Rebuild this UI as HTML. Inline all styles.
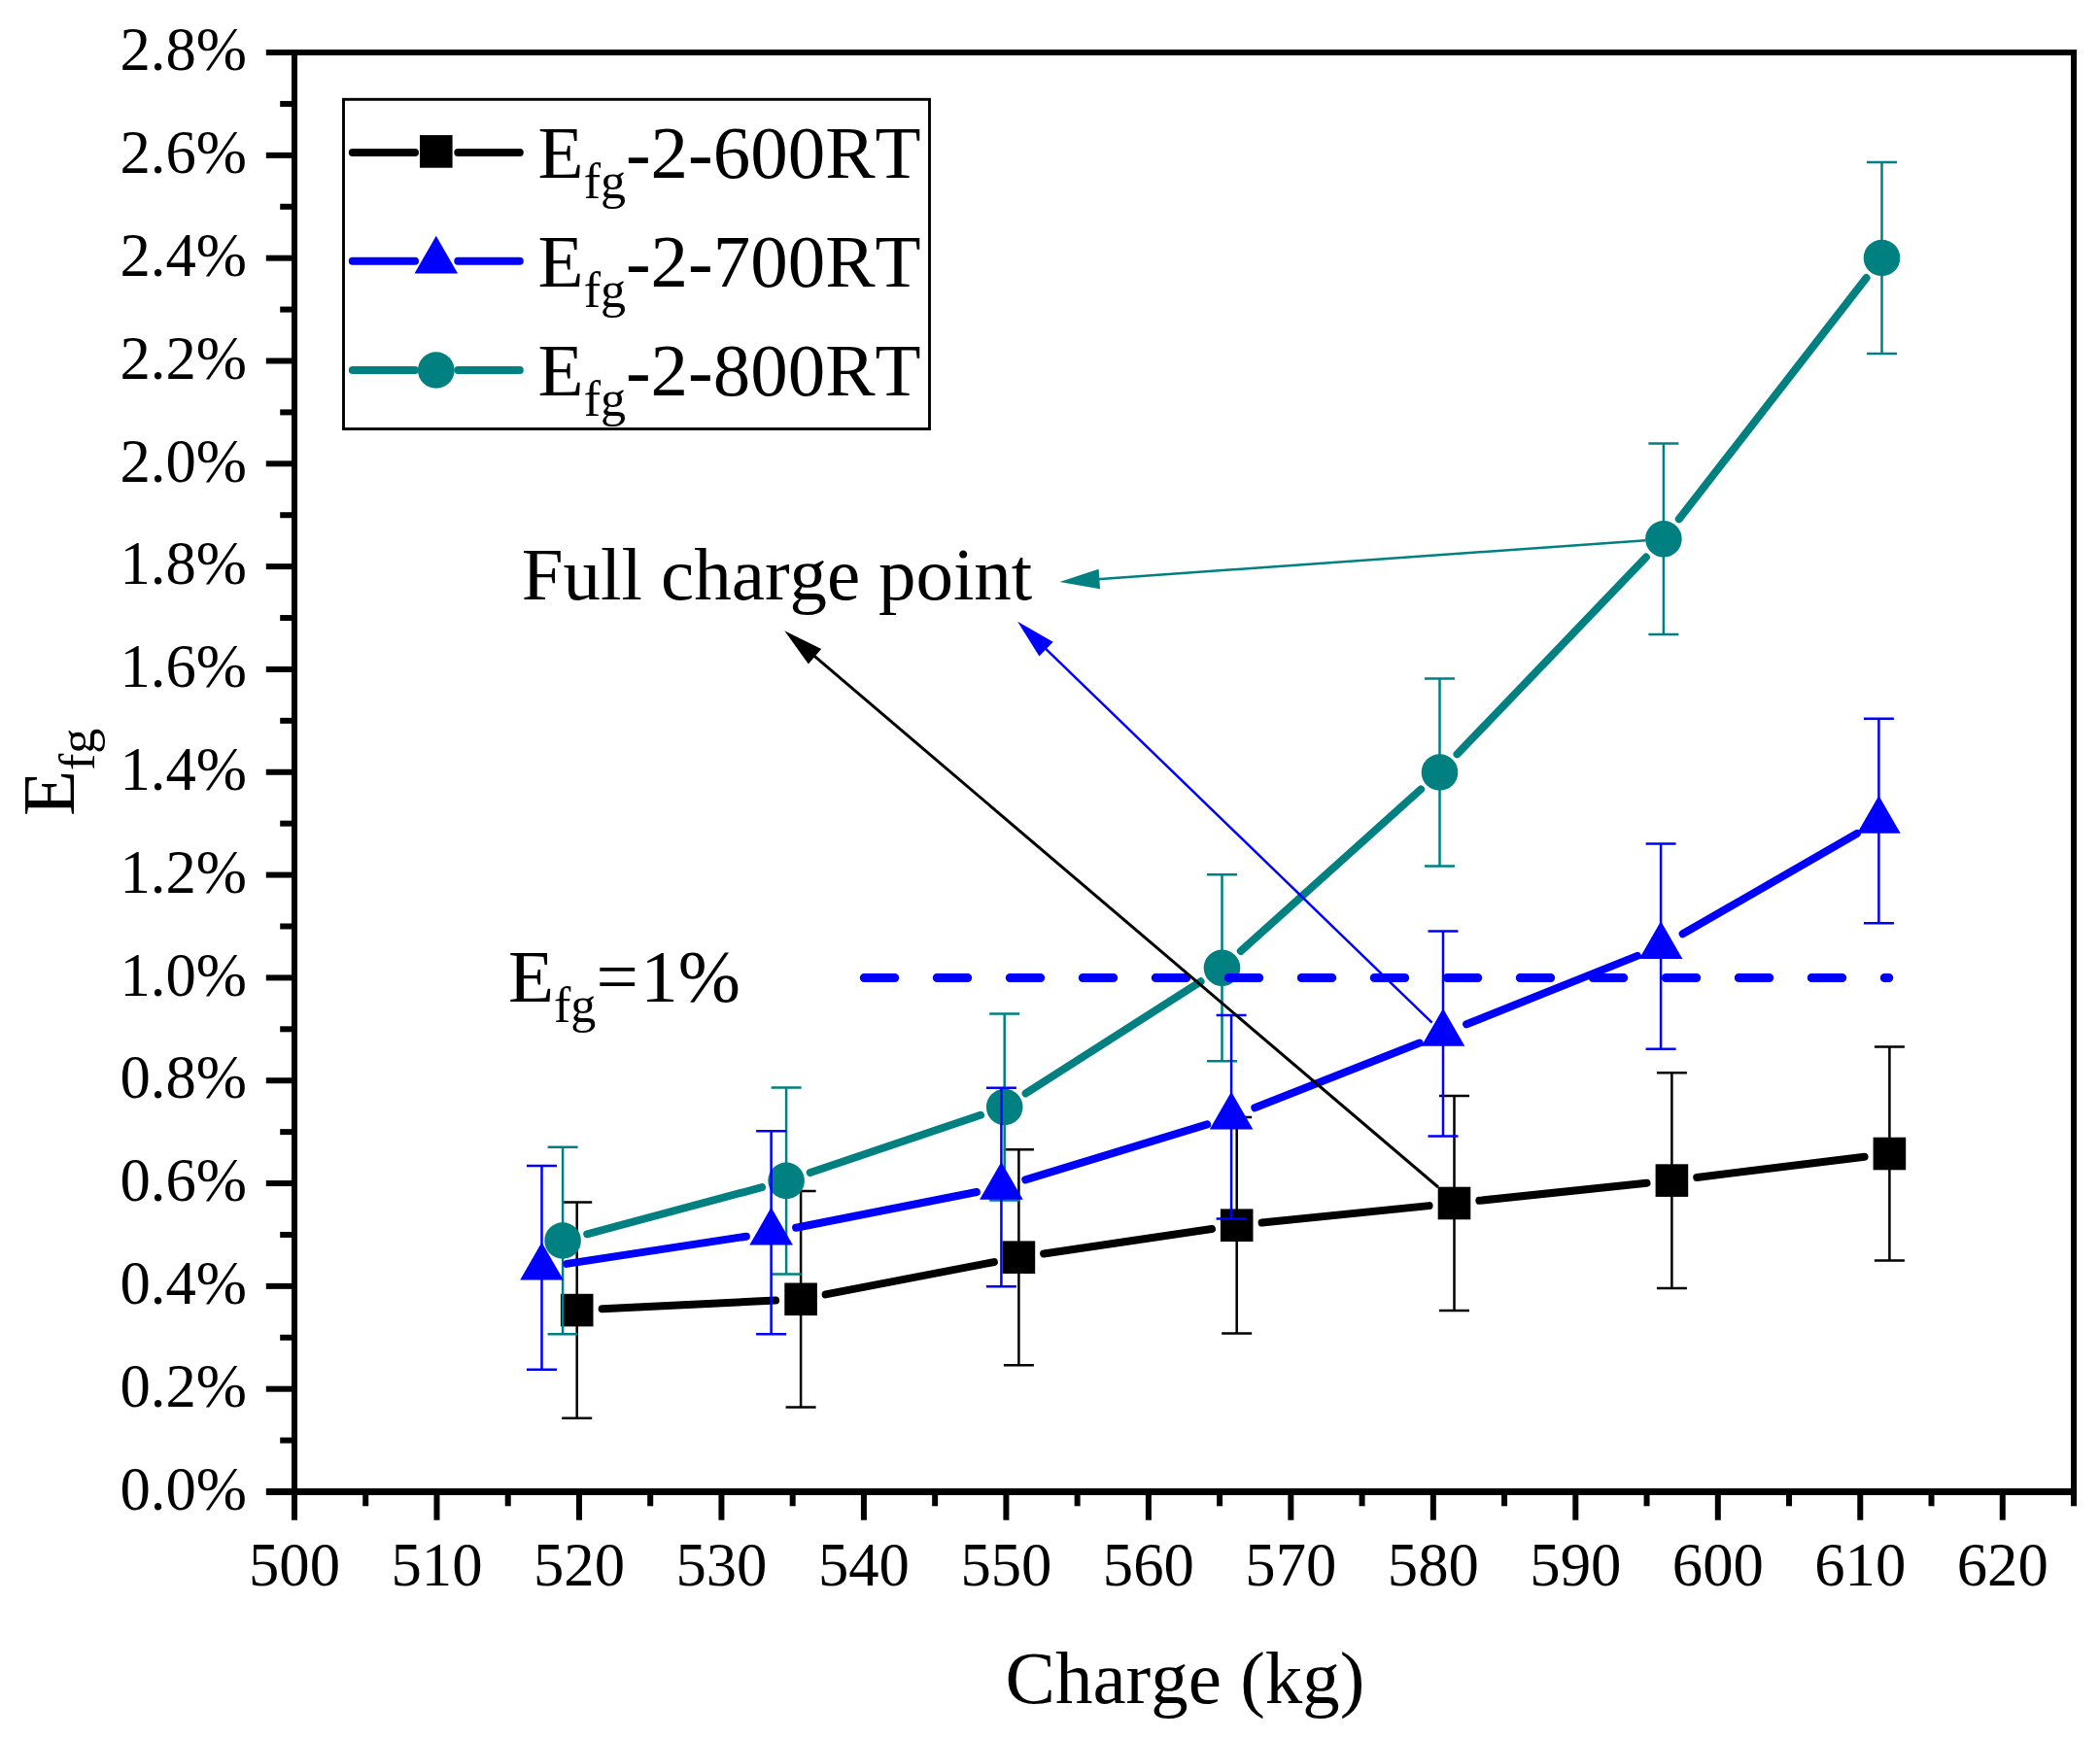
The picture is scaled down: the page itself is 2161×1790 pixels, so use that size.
<!DOCTYPE html>
<html lang="en"><head><meta charset="utf-8"><title>Efg vs Charge</title>
<style>text{font-kerning:none}html,body{margin:0;padding:0;background:#fff}svg{display:block}</style></head>
<body>
<svg width="2161" height="1790" viewBox="0 0 2161 1790" font-family="'Liberation Serif', 'Times New Roman', serif">
<rect width="2161" height="1790" fill="#fff"/>
<g stroke="#000" stroke-width="6" fill="none" stroke-linecap="butt">
<path d="M303.00,1539.00V54.02H2134.00V1539.00" stroke-linejoin="miter"/>
<line x1="274.00" y1="1535.50" x2="2137.00" y2="1535.50" stroke-width="7"/>
<line x1="273.80" y1="1535.50" x2="303.00" y2="1535.50"/>
<line x1="288.20" y1="1482.59" x2="303.00" y2="1482.59"/>
<line x1="273.80" y1="1429.68" x2="303.00" y2="1429.68"/>
<line x1="288.20" y1="1376.77" x2="303.00" y2="1376.77"/>
<line x1="273.80" y1="1323.86" x2="303.00" y2="1323.86"/>
<line x1="288.20" y1="1270.95" x2="303.00" y2="1270.95"/>
<line x1="273.80" y1="1218.04" x2="303.00" y2="1218.04"/>
<line x1="288.20" y1="1165.13" x2="303.00" y2="1165.13"/>
<line x1="273.80" y1="1112.22" x2="303.00" y2="1112.22"/>
<line x1="288.20" y1="1059.31" x2="303.00" y2="1059.31"/>
<line x1="273.80" y1="1006.40" x2="303.00" y2="1006.40"/>
<line x1="288.20" y1="953.49" x2="303.00" y2="953.49"/>
<line x1="273.80" y1="900.58" x2="303.00" y2="900.58"/>
<line x1="288.20" y1="847.67" x2="303.00" y2="847.67"/>
<line x1="273.80" y1="794.76" x2="303.00" y2="794.76"/>
<line x1="288.20" y1="741.85" x2="303.00" y2="741.85"/>
<line x1="273.80" y1="688.94" x2="303.00" y2="688.94"/>
<line x1="288.20" y1="636.03" x2="303.00" y2="636.03"/>
<line x1="273.80" y1="583.12" x2="303.00" y2="583.12"/>
<line x1="288.20" y1="530.21" x2="303.00" y2="530.21"/>
<line x1="273.80" y1="477.30" x2="303.00" y2="477.30"/>
<line x1="288.20" y1="424.39" x2="303.00" y2="424.39"/>
<line x1="273.80" y1="371.48" x2="303.00" y2="371.48"/>
<line x1="288.20" y1="318.57" x2="303.00" y2="318.57"/>
<line x1="273.80" y1="265.66" x2="303.00" y2="265.66"/>
<line x1="288.20" y1="212.75" x2="303.00" y2="212.75"/>
<line x1="273.80" y1="159.84" x2="303.00" y2="159.84"/>
<line x1="288.20" y1="106.93" x2="303.00" y2="106.93"/>
<line x1="273.80" y1="54.02" x2="303.00" y2="54.02"/>
<line x1="303.00" y1="1535.50" x2="303.00" y2="1564.70"/>
<line x1="376.24" y1="1535.50" x2="376.24" y2="1550.30"/>
<line x1="449.48" y1="1535.50" x2="449.48" y2="1564.70"/>
<line x1="522.72" y1="1535.50" x2="522.72" y2="1550.30"/>
<line x1="595.96" y1="1535.50" x2="595.96" y2="1564.70"/>
<line x1="669.20" y1="1535.50" x2="669.20" y2="1550.30"/>
<line x1="742.44" y1="1535.50" x2="742.44" y2="1564.70"/>
<line x1="815.68" y1="1535.50" x2="815.68" y2="1550.30"/>
<line x1="888.92" y1="1535.50" x2="888.92" y2="1564.70"/>
<line x1="962.16" y1="1535.50" x2="962.16" y2="1550.30"/>
<line x1="1035.40" y1="1535.50" x2="1035.40" y2="1564.70"/>
<line x1="1108.64" y1="1535.50" x2="1108.64" y2="1550.30"/>
<line x1="1181.88" y1="1535.50" x2="1181.88" y2="1564.70"/>
<line x1="1255.12" y1="1535.50" x2="1255.12" y2="1550.30"/>
<line x1="1328.36" y1="1535.50" x2="1328.36" y2="1564.70"/>
<line x1="1401.60" y1="1535.50" x2="1401.60" y2="1550.30"/>
<line x1="1474.84" y1="1535.50" x2="1474.84" y2="1564.70"/>
<line x1="1548.08" y1="1535.50" x2="1548.08" y2="1550.30"/>
<line x1="1621.32" y1="1535.50" x2="1621.32" y2="1564.70"/>
<line x1="1694.56" y1="1535.50" x2="1694.56" y2="1550.30"/>
<line x1="1767.80" y1="1535.50" x2="1767.80" y2="1564.70"/>
<line x1="1841.04" y1="1535.50" x2="1841.04" y2="1550.30"/>
<line x1="1914.28" y1="1535.50" x2="1914.28" y2="1564.70"/>
<line x1="1987.52" y1="1535.50" x2="1987.52" y2="1550.30"/>
<line x1="2060.76" y1="1535.50" x2="2060.76" y2="1564.70"/>
<line x1="2134.00" y1="1535.50" x2="2134.00" y2="1550.30"/>
</g>
<g font-size="62.7" fill="#000">
<text x="254" y="1553.70" text-anchor="end">0.0%</text>
<text x="254" y="1447.88" text-anchor="end">0.2%</text>
<text x="254" y="1342.06" text-anchor="end">0.4%</text>
<text x="254" y="1236.24" text-anchor="end">0.6%</text>
<text x="254" y="1130.42" text-anchor="end">0.8%</text>
<text x="254" y="1024.60" text-anchor="end">1.0%</text>
<text x="254" y="918.78" text-anchor="end">1.2%</text>
<text x="254" y="812.96" text-anchor="end">1.4%</text>
<text x="254" y="707.14" text-anchor="end">1.6%</text>
<text x="254" y="601.32" text-anchor="end">1.8%</text>
<text x="254" y="495.50" text-anchor="end">2.0%</text>
<text x="254" y="389.68" text-anchor="end">2.2%</text>
<text x="254" y="283.86" text-anchor="end">2.4%</text>
<text x="254" y="178.04" text-anchor="end">2.6%</text>
<text x="254" y="72.22" text-anchor="end">2.8%</text>
<text x="303.00" y="1631.5" text-anchor="middle">500</text>
<text x="449.48" y="1631.5" text-anchor="middle">510</text>
<text x="595.96" y="1631.5" text-anchor="middle">520</text>
<text x="742.44" y="1631.5" text-anchor="middle">530</text>
<text x="888.92" y="1631.5" text-anchor="middle">540</text>
<text x="1035.40" y="1631.5" text-anchor="middle">550</text>
<text x="1181.88" y="1631.5" text-anchor="middle">560</text>
<text x="1328.36" y="1631.5" text-anchor="middle">570</text>
<text x="1474.84" y="1631.5" text-anchor="middle">580</text>
<text x="1621.32" y="1631.5" text-anchor="middle">590</text>
<text x="1767.80" y="1631.5" text-anchor="middle">600</text>
<text x="1914.28" y="1631.5" text-anchor="middle">610</text>
<text x="2060.76" y="1631.5" text-anchor="middle">620</text>
</g>
<text x="1219.50" y="1753" font-size="77" text-anchor="middle" fill="#000">Charge (kg)</text>
<text transform="translate(76,840) rotate(-90)" font-size="77" fill="#000">E<tspan font-size="52" dy="21">fg</tspan></text>
<g>
<g stroke="#000" stroke-width="2.5" fill="none">
<path d="M593.70,1237.40V1459.80M578.20,1237.40h31M578.20,1459.80h31"/>
<path d="M824.10,1226.00V1448.60M808.60,1226.00h31M808.60,1448.60h31"/>
<path d="M1048.40,1183.20V1405.20M1032.90,1183.20h31M1032.90,1405.20h31"/>
<path d="M1272.70,1150.00V1372.40M1257.20,1150.00h31M1257.20,1372.40h31"/>
<path d="M1496.50,1128.00V1349.00M1481.00,1128.00h31M1481.00,1349.00h31"/>
<path d="M1720.40,1104.30V1325.90M1704.90,1104.30h31M1704.90,1325.90h31"/>
<path d="M1944.40,1077.50V1297.50M1928.90,1077.50h31M1928.90,1297.50h31"/>
</g>
<g stroke="#000" stroke-width="8" stroke-linecap="round" fill="none">
<line x1="619.67" y1="1347.33" x2="798.13" y2="1338.57"/>
<line x1="849.63" y1="1332.39" x2="1022.87" y2="1299.11"/>
<line x1="1074.12" y1="1290.42" x2="1246.98" y2="1264.98"/>
<line x1="1298.57" y1="1258.58" x2="1470.63" y2="1241.12"/>
<line x1="1522.36" y1="1235.80" x2="1694.54" y2="1217.80"/>
<line x1="1746.20" y1="1211.92" x2="1918.60" y2="1190.68"/>
</g>
<rect x="576.90" y="1331.80" width="33.6" height="33.6" fill="#000"/>
<rect x="807.30" y="1320.50" width="33.6" height="33.6" fill="#000"/>
<rect x="1031.60" y="1277.40" width="33.6" height="33.6" fill="#000"/>
<rect x="1255.90" y="1244.40" width="33.6" height="33.6" fill="#000"/>
<rect x="1479.70" y="1221.70" width="33.6" height="33.6" fill="#000"/>
<rect x="1703.60" y="1198.30" width="33.6" height="33.6" fill="#000"/>
<rect x="1927.60" y="1170.70" width="33.6" height="33.6" fill="#000"/>
</g>
<g>
<g stroke="#008080" stroke-width="2.5" fill="none">
<path d="M579.10,1180.70V1373.30M563.60,1180.70h31M563.60,1373.30h31"/>
<path d="M809.10,1119.40V1311.40M793.60,1119.40h31M793.60,1311.40h31"/>
<path d="M1033.70,1043.50V1235.50M1018.20,1043.50h31M1018.20,1235.50h31"/>
<path d="M1257.50,900.30V1092.30M1242.00,900.30h31M1242.00,1092.30h31"/>
<path d="M1481.50,698.60V891.40M1466.00,698.60h31M1466.00,891.40h31"/>
<path d="M1711.90,456.50V653.10M1696.40,456.50h31M1696.40,653.10h31"/>
<path d="M1936.50,166.90V364.10M1921.00,166.90h31M1921.00,364.10h31"/>
</g>
<g stroke="#008080" stroke-width="8" stroke-linecap="round" fill="none">
<line x1="604.21" y1="1270.27" x2="783.99" y2="1222.13"/>
<line x1="833.73" y1="1207.08" x2="1009.07" y2="1147.82"/>
<line x1="1055.60" y1="1125.49" x2="1235.60" y2="1010.31"/>
<line x1="1276.84" y1="978.92" x2="1462.16" y2="812.38"/>
<line x1="1499.50" y1="776.24" x2="1693.90" y2="573.56"/>
<line x1="1727.84" y1="534.26" x2="1920.56" y2="286.04"/>
</g>
<circle cx="579.10" cy="1277.00" r="18.8" fill="#008080"/>
<circle cx="809.10" cy="1215.40" r="18.8" fill="#008080"/>
<circle cx="1033.70" cy="1139.50" r="18.8" fill="#008080"/>
<circle cx="1257.50" cy="996.30" r="18.8" fill="#008080"/>
<circle cx="1481.50" cy="795.00" r="18.8" fill="#008080"/>
<circle cx="1711.90" cy="554.80" r="18.8" fill="#008080"/>
<circle cx="1936.50" cy="265.50" r="18.8" fill="#008080"/>
</g>
<g>
<g stroke="#0000ff" stroke-width="2.5" fill="none">
<path d="M557.50,1199.90V1409.70M542.00,1199.90h31M542.00,1409.70h31"/>
<path d="M793.60,1164.30V1373.30M778.10,1164.30h31M778.10,1373.30h31"/>
<path d="M1030.40,1119.80V1324.20M1014.90,1119.80h31M1014.90,1324.20h31"/>
<path d="M1267.10,1045.00V1254.60M1251.60,1045.00h31M1251.60,1254.60h31"/>
<path d="M1485.00,958.60V1169.40M1469.50,958.60h31M1469.50,1169.40h31"/>
<path d="M1709.10,868.60V1079.80M1693.60,868.60h31M1693.60,1079.80h31"/>
<path d="M1933.40,739.70V950.30M1917.90,739.70h31M1917.90,950.30h31"/>
</g>
<g stroke="#0000ff" stroke-width="8" stroke-linecap="round" fill="none">
<line x1="583.20" y1="1300.88" x2="767.90" y2="1272.72"/>
<line x1="819.11" y1="1263.76" x2="1004.89" y2="1227.04"/>
<line x1="1055.27" y1="1214.41" x2="1242.23" y2="1157.39"/>
<line x1="1291.29" y1="1140.27" x2="1460.81" y2="1073.53"/>
<line x1="1509.13" y1="1054.33" x2="1684.97" y2="983.87"/>
<line x1="1731.63" y1="961.22" x2="1910.87" y2="857.98"/>
</g>
<polygon points="557.50,1278.80 579.80,1317.60 535.20,1317.60" fill="#0000ff"/>
<polygon points="793.60,1242.80 815.90,1281.60 771.30,1281.60" fill="#0000ff"/>
<polygon points="1030.40,1196.00 1052.70,1234.80 1008.10,1234.80" fill="#0000ff"/>
<polygon points="1267.10,1123.80 1289.40,1162.60 1244.80,1162.60" fill="#0000ff"/>
<polygon points="1485.00,1038.00 1507.30,1076.80 1462.70,1076.80" fill="#0000ff"/>
<polygon points="1709.10,948.20 1731.40,987.00 1686.80,987.00" fill="#0000ff"/>
<polygon points="1933.40,819.00 1955.70,857.80 1911.10,857.80" fill="#0000ff"/>
</g>
<line x1="889.3" y1="1006.5" x2="1943.8" y2="1006.5" stroke="#0000ff" stroke-width="9" stroke-linecap="round" stroke-dasharray="31.4 43.6"/>
<line x1="1480.00" y1="1222.00" x2="836.99" y2="674.48" stroke="#000" stroke-width="3"/><polygon points="807.30,649.20 845.16,667.98 831.87,683.58" fill="#000"/>
<line x1="1473.60" y1="1052.70" x2="1075.12" y2="666.83" stroke="#0000ff" stroke-width="2.5"/><polygon points="1047.10,639.70 1083.68,660.86 1069.42,675.58" fill="#0000ff"/>
<line x1="1693.40" y1="556.20" x2="1129.30" y2="596.15" stroke="#008080" stroke-width="2.5"/><polygon points="1090.40,598.90 1130.57,585.78 1132.02,606.23" fill="#008080"/>
<text y="617" font-size="77" fill="#000" xml:space="preserve"><tspan x="536.8">Full </tspan><tspan x="680.1">charge </tspan><tspan x="903.9">point</tspan></text>
<text x="523" y="1031" font-size="77" fill="#000">E<tspan font-size="52" dy="21">fg</tspan><tspan dy="-21">=</tspan><tspan dx="2.5">1%</tspan></text>
<rect x="353.5" y="102.3" width="603" height="339.2" fill="#fff" stroke="#000" stroke-width="2.9"/>
<g stroke="#000" stroke-width="8" stroke-linecap="round"><line x1="362.8" y1="156.9" x2="427" y2="156.9"/><line x1="471.3" y1="156.9" x2="534.8" y2="156.9"/></g>
<rect x="432.00" y="139.10" width="33.6" height="33.6" fill="#000"/>
<text x="553.6" y="183.2" font-size="77" fill="#000">E<tspan font-size="52" dy="21">fg</tspan><tspan dy="-21">-2-600RT</tspan></text>
<g stroke="#0000ff" stroke-width="8" stroke-linecap="round"><line x1="362.8" y1="268.8" x2="427" y2="268.8"/><line x1="471.3" y1="268.8" x2="534.8" y2="268.8"/></g>
<polygon points="448.80,242.80 471.10,281.60 426.50,281.60" fill="#0000ff"/>
<text x="553.6" y="295.2" font-size="77" fill="#000">E<tspan font-size="52" dy="21">fg</tspan><tspan dy="-21">-2-700RT</tspan></text>
<g stroke="#008080" stroke-width="8" stroke-linecap="round"><line x1="362.8" y1="381" x2="427" y2="381"/><line x1="471.3" y1="381" x2="534.8" y2="381"/></g>
<circle cx="448.80" cy="381.00" r="18.8" fill="#008080"/>
<text x="553.6" y="407.2" font-size="77" fill="#000">E<tspan font-size="52" dy="21">fg</tspan><tspan dy="-21">-2-800RT</tspan></text>
</svg>
</body></html>
